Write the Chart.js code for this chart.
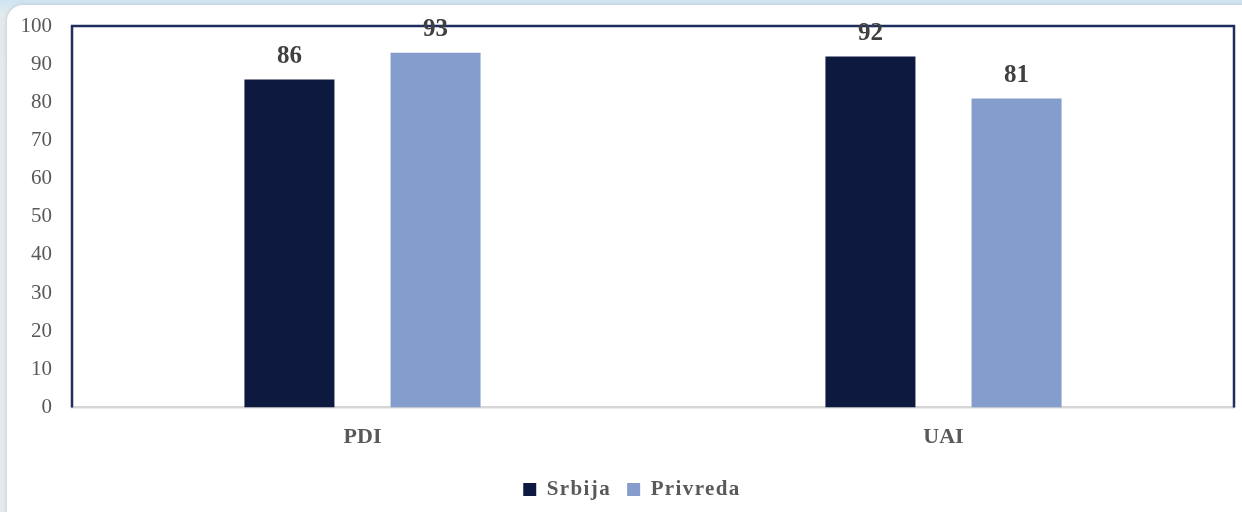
<!DOCTYPE html>
<html>
<head>
<meta charset="utf-8">
<script src="https://cdn.jsdelivr.net/npm/chart.js@4/dist/chart.umd.min.js"></script>
<style>
    html, body { margin: 0; padding: 0; }
    body {
        width: 1242px;
        height: 512px;
        overflow: hidden;
        position: relative;
        background: linear-gradient(to bottom, #cfe5f2 0px, #e3eaee 14px, #e6eaed 100%);
    }
    .card {
        position: absolute;
        left: 7px;
        top: 5px;
        width: 1260px;
        height: 540px;
        background: #ffffff;
        border-radius: 16px;
        box-shadow: 0 0 4px rgba(120, 130, 140, 0.35);
    }
    .wrap {
        position: absolute;
        left: 0;
        top: 0;
        width: 1242px;
        height: 512px;
    }
</style>
</head>
<body>
<div class="card"></div>
<div class="wrap"><canvas id="chart"></canvas></div>
<script>
const categories = ["PDI", "UAI"];
const srbija = [86, 92];
const privreda = [93, 81];
const yTicks = [0, 10, 20, 30, 40, 50, 60, 70, 80, 90, 100];

const serif = "'Liberation Serif', 'Times New Roman', serif";

// navy frame around the plot (left, top, right)
const frame = {
    id: "frame",
    beforeDatasetsDraw(chart) {
        const a = chart.chartArea;
        const c = chart.ctx;
        c.save();
        c.strokeStyle = "#1f2e5e";
        c.lineWidth = 2.5;
        c.beginPath();
        c.moveTo(a.left, a.bottom);
        c.lineTo(a.left, a.top);
        c.lineTo(a.right, a.top);
        c.lineTo(a.right, a.bottom);
        c.stroke();
        c.restore();
    }
};

// value above each bar
const valueLabels = {
    id: "valueLabels",
    afterDatasetsDraw(chart) {
        const c = chart.ctx;
        c.save();
        c.font = "bold 25px " + serif;
        c.fillStyle = "#404040";
        c.textAlign = "center";
        c.textBaseline = "middle";
        chart.data.datasets.forEach((ds, i) => {
            chart.getDatasetMeta(i).data.forEach((bar, j) => {
                c.fillText(ds.data[j], bar.x, bar.y - 23);
            });
        });
        c.restore();
    }
};

// legend text is letter-spaced a little and sits a bit right of centre
const spacedLegend = {
    id: "spacedLegend",
    afterInit(chart) {
        const lg = chart.legend;
        const fit = lg.fit;
        const draw = lg.draw;
        lg.fit = function (...args) {
            const prev = this.ctx.letterSpacing;
            this.ctx.letterSpacing = "1.4px";
            const r = fit.apply(this, args);
            this.ctx.letterSpacing = prev;
            return r;
        };
        lg.draw = function (...args) {
            const c = this.ctx;
            c.save();
            c.letterSpacing = "1.4px";
            c.translate(15, 0);
            const r = draw.apply(this, args);
            c.restore();
            return r;
        };
    }
};

const ctx = document.getElementById("chart").getContext("2d");

new Chart(ctx, {
    type: "bar",
    data: {
        labels: categories,
        datasets: [
            { label: "Srbija", data: srbija, backgroundColor: "#0e1940" },
            { label: "Privreda", data: privreda, backgroundColor: "#859dcc" }
        ]
    },
    options: {
        responsive: true,
        maintainAspectRatio: false,
        animation: false,
        categoryPercentage: 0.503,
        barPercentage: 0.616,
        layout: { padding: { top: 26, right: 8, left: 0, bottom: 2 } },
        plugins: {
            tooltip: { enabled: false },
            legend: {
                position: "bottom",
                labels: {
                    boxWidth: 13,
                    boxHeight: 13,
                    padding: 16,
                    color: "#595959",
                    font: { family: serif, size: 21, weight: "bold" }
                }
            }
        },
        scales: {
            x: {
                grid: { display: false },
                border: { color: "#d6d6d6", width: 2.5 },
                afterFit(scale) {
                    scale.height += 3;
                },
                ticks: {
                    color: "#595959",
                    padding: 9,
                    font: { family: serif, size: 22, weight: "bold" }
                }
            },
            y: {
                min: 0,
                max: 100,
                afterBuildTicks(scale) {
                    scale.ticks = yTicks.map(v => ({ value: v }));
                },
                afterFit(scale) {
                    scale.width = 72;
                    // the horizontal tick padding should not push the plot down
                    scale.paddingTop = 10;
                    scale.paddingBottom = 10;
                },
                grid: { display: false, drawTicks: false },
                border: { display: false },
                ticks: {
                    color: "#595959",
                    padding: 20,
                    font: { family: serif, size: 21 }
                }
            }
        }
    },
    plugins: [frame, valueLabels, spacedLegend]
});
</script>
</body>
</html>
